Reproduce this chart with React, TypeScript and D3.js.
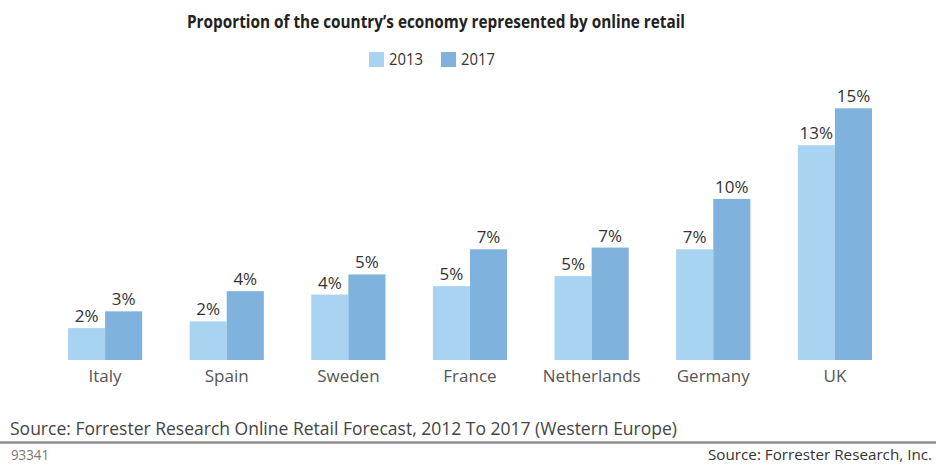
import React from "react";
import * as d3 from "d3";

const countries = ["Italy", "Spain", "Sweden", "France", "Netherlands", "Germany", "UK"];
const series = ["2013", "2017"];
const values2013 = [1.9, 2.3, 3.9, 4.4, 5.0, 6.6, 12.8];
const values2017 = [2.9, 4.1, 5.1, 6.6, 6.7, 9.6, 15.0];
const labels2013 = ["2%", "2%", "4%", "5%", "5%", "7%", "13%"];
const labels2017 = ["3%", "4%", "5%", "7%", "7%", "10%", "15%"];
const colors = ["#a8d4f1", "#7fb3de"];

const title = "Proportion of the country\u2019s economy represented by online retail";
const footnote = "Source: Forrester Research Online Retail Forecast, 2012 To 2017 (Western Europe)";
const idText = "93341";
const credit = "Source: Forrester Research, Inc.";

const W = 936;
const H = 465;
const FONT = "'Open Sans', 'Noto Sans', sans-serif";

export default function App() {
  const x0 = d3.scaleBand<string>().domain(countries).range([68, 872]).paddingInner(0.39).paddingOuter(0);
  const x1 = d3.scaleBand<string>().domain(series).range([0, x0.bandwidth()]).padding(0);
  const y = d3.scaleLinear().domain([0, 15]).range([360, 108.3]);
  const data = [values2013, values2017];
  const labels = [labels2013, labels2017];

  return (
    <svg width={W} height={H} style={{ position: "absolute", left: 0, top: 0, background: "#fff" }}>
      <rect x={0} y={0} width={W} height={H} fill="#ffffff" />
      <text x={187} y={28} fontFamily={FONT} fontWeight={700} fontSize={18}
        fill="#222" textLength={498} lengthAdjust="spacingAndGlyphs">{title}</text>
      {series.map((s, i) => {
        const lx = [369, 441][i];
        return (
          <g key={s}>
            <rect x={lx} y={52} width={15} height={15} fill={colors[i]} />
            <text x={lx + 20} y={65} fontFamily={FONT} fontSize={17} fill="#333"
              textLength={34} lengthAdjust="spacingAndGlyphs">{s}</text>
          </g>
        );
      })}
      {countries.map((c, ci) => (
        <g key={c} transform={`translate(${x0(c)},0)`}>
          {series.map((s, si) => {
            const v = data[si][ci];
            const bx = x1(s) as number;
            return (
              <g key={s}>
                <rect x={bx} y={y(v)} width={x1.bandwidth()} height={y(0) - y(v)} fill={colors[si]} />
                <text x={bx + x1.bandwidth() / 2} y={y(v) - 6} textAnchor="middle" fontFamily={FONT}
                  fontSize={17} fill="#333">{labels[si][ci]}</text>
              </g>
            );
          })}
          <text x={x0.bandwidth() / 2} y={382} textAnchor="middle" fontFamily={FONT} fontSize={17}
            fill="#555">{c}</text>
        </g>
      ))}
      <text x={10} y={435} fontFamily={FONT} fontSize={18} fill="#444" textLength={667}
        lengthAdjust="spacingAndGlyphs">{footnote}</text>
      <line x1={0} x2={W} y1={442.5} y2={442.5} stroke="#8f8f8f" strokeWidth={2.5} />
      <text x={11} y={460} fontFamily={FONT} fontSize={14} fill="#777" textLength={38}
        lengthAdjust="spacingAndGlyphs">{idText}</text>
      <text x={708} y={460} fontFamily={FONT} fontSize={15} fill="#333" textLength={224}
        lengthAdjust="spacingAndGlyphs">{credit}</text>
    </svg>
  );
}
